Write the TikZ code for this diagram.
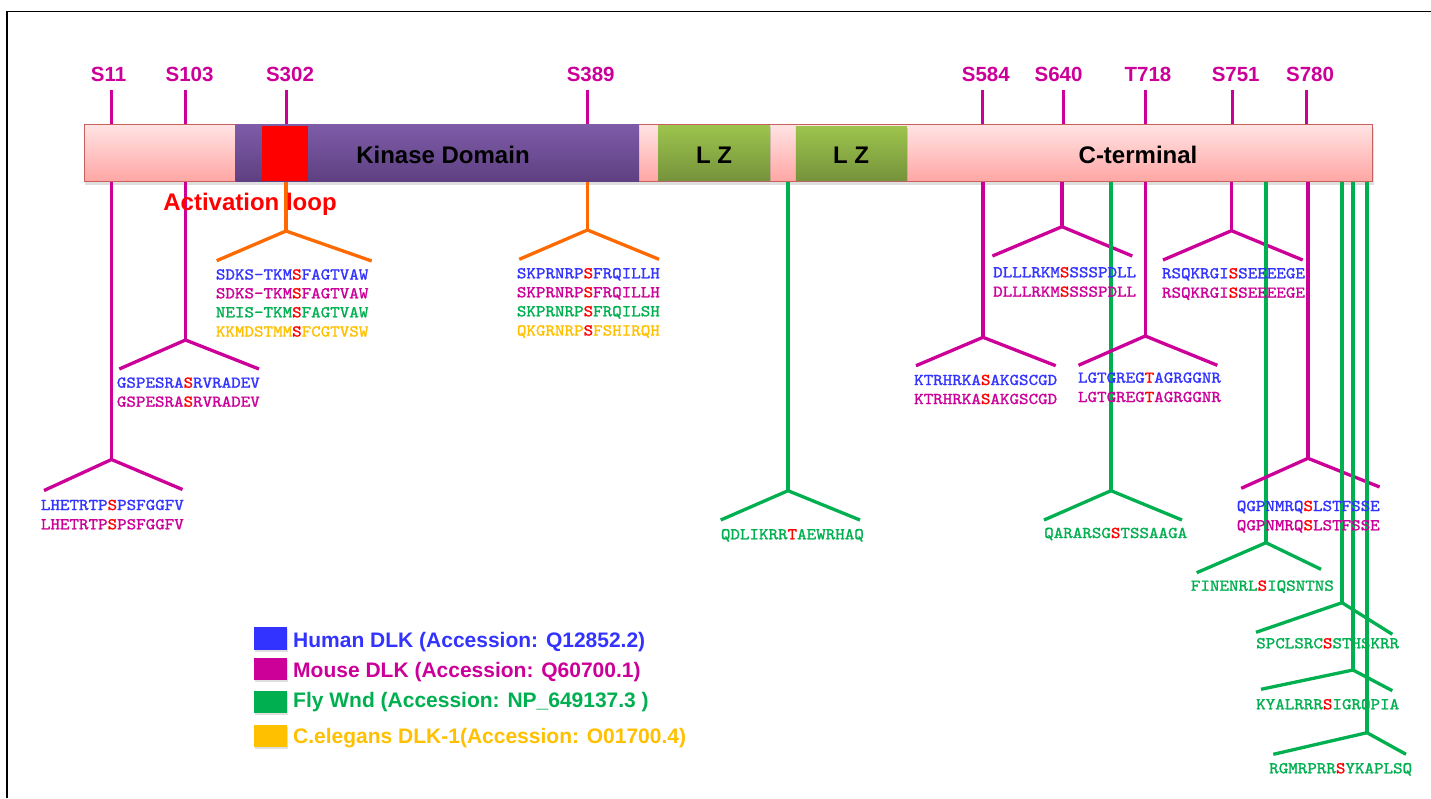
\documentclass[tikz,border=0pt]{standalone}
\usepackage{fontspec}
\setmainfont{Liberation Sans}
\newfontfamily\seqfont{lmmono10-regular}[Extension=.otf, FakeStretch=1.1, FakeBold=1.4]
\usetikzlibrary{shadows}

\definecolor{hblue}{HTML}{3333FF}
\definecolor{mag}{HTML}{CC0099}
\definecolor{fly}{HTML}{00B050}
\definecolor{worm}{HTML}{FFC000}
\definecolor{orng}{HTML}{FF6A00}
\definecolor{hl}{HTML}{FF0000}
\definecolor{barTop}{HTML}{FFE4E4}
\definecolor{barBot}{HTML}{FFA6A4}
\definecolor{barEdge}{HTML}{C8605E}
\definecolor{kinTop}{HTML}{7E5CA8}
\definecolor{kinBot}{HTML}{5E4082}
\definecolor{lzTop}{HTML}{9DC44C}
\definecolor{lzBot}{HTML}{76933C}

\tikzset{
  site/.style={font={\fontsize{20.5}{24}\selectfont\bfseries}, text=mag, anchor=base, inner sep=0pt},
  stem/.style={line width=3pt, draw=mag},
  magline/.style={line width=3.3pt, draw=mag, line join=round},
  orgline/.style={line width=3.3pt, draw=orng, line join=round},
  flyline/.style={line width=3.3pt, draw=fly, line join=round},
  seqtext/.style={font={\seqfont\fontsize{16.5}{19}\selectfont}, anchor=base west, inner sep=0pt},
  domtext/.style={font={\fontsize{24}{28}\selectfont\bfseries}, anchor=base, inner sep=0pt},
  legtext/.style={font={\fontsize{21}{25}\selectfont\bfseries}, anchor=base west, inner sep=0pt},
  legbox/.style={draw=none, drop shadow={shadow xshift=1pt, shadow yshift=-2pt, opacity=0.25}},
}

% one aligned residue row: name, x, baseline y, colour, before, site, after
\newcommand\seqrow[7]{%
  \node[seqtext, text=#4] (#1) at (#2,#3) {#5\textcolor{hl}{#6}#7};}

% stem from the bar down to a fork: name, style, x, fork y, left x, left y, right x, right y
\newcommand\fork[8]{%
  \coordinate (#1-top) at (#3,182);
  \coordinate (#1-apex) at (#3,#4);
  \coordinate (#1-l) at (#5,#6);
  \coordinate (#1-r) at (#7,#8);
  \draw[#2] (#1-top) -- (#1-apex);
  \draw[#2] (#1-l) -- (#1-apex) -- (#1-r);}

\begin{document}
\begin{tikzpicture}[x=1pt, y=-1pt]
\useasboundingbox (0,0) rectangle (1431,798);
\fill[white] (0,0) rectangle (1431,798);

% frame lines
\draw[line width=1.6pt] (7,798) -- (7,11.5) -- (1431,11.5);

% protein bar with domains
\node[draw=barEdge, line width=1pt, top color=barTop, bottom color=barBot,
      minimum width=1288.5pt, minimum height=57pt, inner sep=0pt, anchor=north west,
      drop shadow={shadow xshift=1pt, shadow yshift=-3pt, opacity=0.25}] (bar) at (83.5,124) {};
\node[fill=kinBot, top color=kinTop, bottom color=kinBot, minimum width=403.5pt,
      minimum height=57pt, inner sep=0pt, anchor=north west] (kinase) at (235.5,124) {};
\node[fill=hl, minimum width=46.2pt, minimum height=55pt, inner sep=0pt, anchor=north west] (aloop) at (261.5,126) {};
\node[top color=lzTop, bottom color=lzBot, minimum width=112pt, minimum height=55pt, inner sep=0pt,
      anchor=north west, drop shadow={shadow xshift=1pt, shadow yshift=-2pt, opacity=0.3}] (lz1) at (658,125) {};
\node[top color=lzTop, bottom color=lzBot, minimum width=111pt, minimum height=54pt, inner sep=0pt,
      anchor=north west, drop shadow={shadow xshift=1pt, shadow yshift=-2pt, opacity=0.3}] (lz2) at (795.6,126) {};

\node[domtext] (kintxt) at (443,163) {Kinase Domain};
\node[domtext] (lz1txt) at (714,163) {L Z};
\node[domtext] (lz2txt) at (851,163) {L Z};
\node[domtext] (ctxt) at (1138,163) {C-terminal};

% phosphosite labels and ticks above the bar
\foreach \nm/\tx/\lx/\lab in {s11/111.5/108.6/S11, s103/185.5/189.6/S103, s302/286/290/S302,
    s389/587/590.7/S389, s584/982.5/985.8/S584, s640/1063/1058.5/S640, t718/1145/1148/T718,
    s751/1232/1235.7/S751, s780/1306.5/1310/S780}{
  \node[site] (lab-\nm) at (\lx,81) {\lab};
  \coordinate (tk-\nm) at (\tx,90);
  \coordinate (tb-\nm) at (\tx,124);
  \draw[stem] (tk-\nm) -- (tb-\nm);
}

% forks below the bar
\fork{f11}{magline}{111.5}{459.5}{44}{490.5}{182.5}{489.5}
\fork{f103}{magline}{185.5}{340}{119.3}{369}{259}{369}
\fork{f302}{orgline}{286}{231}{216.7}{260.7}{371.7}{261}
\fork{f389}{orgline}{587.5}{230}{519.3}{259.3}{659}{259.3}
\fork{g788}{flyline}{788}{490.7}{720.7}{520}{860}{520}
\fork{f584}{magline}{983}{337.3}{916}{365.7}{1055.7}{365.7}
\fork{f640}{magline}{1062}{226.7}{992.4}{256}{1132.3}{256}
\fork{g1111}{flyline}{1111}{490.7}{1044}{520}{1182}{520}
\fork{f718}{magline}{1145.3}{336}{1078.5}{365.3}{1217.3}{365.3}
\fork{f751}{magline}{1231.5}{230.7}{1163}{260}{1302.7}{260}
\fork{g1266}{flyline}{1266}{542.7}{1196.7}{572.7}{1321}{569.3}
\fork{f780}{magline}{1308}{458.3}{1241.2}{488.3}{1379.6}{487}
\fork{g1342}{flyline}{1342}{602.7}{1256}{632.3}{1392.3}{634.3}
\fork{g1353}{flyline}{1353}{670}{1261}{689.3}{1392.3}{690.7}
\fork{g1367}{flyline}{1367}{732.7}{1273.3}{754.3}{1406}{754.3}

\node[domtext, text=hl] (actloop) at (250,210) {Activation loop};

% aligned sequences around each site
\seqrow{q11a}{40.7}{510}{hblue}{LHETRTP}{S}{PSFGGFV}
\seqrow{q11b}{40.7}{529.3}{mag}{LHETRTP}{S}{PSFGGFV}
\seqrow{q103a}{116.7}{387.7}{hblue}{GSPESRA}{S}{RVRADEV}
\seqrow{q103b}{116.7}{406.7}{mag}{GSPESRA}{S}{RVRADEV}
\seqrow{q302a}{215.7}{279.5}{hblue}{SDKS-TKM}{S}{FAGTVAW}
\seqrow{q302b}{215.7}{298.3}{mag}{SDKS-TKM}{S}{FAGTVAW}
\seqrow{q302c}{215.7}{317.3}{fly}{NEIS-TKM}{S}{FAGTVAW}
\seqrow{q302d}{215.7}{336.5}{worm}{KKMDSTMM}{S}{FCGTVSW}
\seqrow{q389a}{516.7}{278.3}{hblue}{SKPRNRP}{S}{FRQILLH}
\seqrow{q389b}{516.7}{297.3}{mag}{SKPRNRP}{S}{FRQILLH}
\seqrow{q389c}{516.7}{316.3}{fly}{SKPRNRP}{S}{FRQILSH}
\seqrow{q389d}{516.7}{335.5}{worm}{QKGRNRP}{S}{FSHIRQH}
\seqrow{w788}{720.7}{539.3}{fly}{QDLIKRR}{T}{AEWRHAQ}
\seqrow{q584a}{914}{385}{hblue}{KTRHRKA}{S}{AKGSCGD}
\seqrow{q584b}{914}{404}{mag}{KTRHRKA}{S}{AKGSCGD}
\seqrow{q640a}{993}{277.3}{hblue}{DLLLRKM}{S}{SSSPDLL}
\seqrow{q640b}{993}{296.7}{mag}{DLLLRKM}{S}{SSSPDLL}
\seqrow{w1111}{1044}{538}{fly}{QARARSG}{S}{TSSAAGA}
\seqrow{q718a}{1077.8}{382.7}{hblue}{LGTGREG}{T}{AGRGGNR}
\seqrow{q718b}{1077.8}{402}{mag}{LGTGREG}{T}{AGRGGNR}
\seqrow{q751a}{1161.8}{278.3}{hblue}{RSQKRGI}{S}{SEEEEGE}
\seqrow{q751b}{1161.8}{297.7}{mag}{RSQKRGI}{S}{SEEEEGE}
\seqrow{w1266}{1190.7}{590.7}{fly}{FINENRL}{S}{IQSNTNS}
\seqrow{q780a}{1236.6}{511}{hblue}{QGPNMRQ}{S}{LSTFSSE}
\seqrow{q780b}{1236.6}{530.3}{mag}{QGPNMRQ}{S}{LSTFSSE}
\seqrow{w1342}{1256}{648.3}{fly}{SPCLSRC}{S}{STHSKRR}
\seqrow{w1353}{1256}{709.3}{fly}{KYALRRR}{S}{IGRQPIA}
\seqrow{w1367}{1269}{773.3}{fly}{RGMRPRR}{S}{YKAPLSQ}

% legend
\fill[hblue, legbox] (254,627) rectangle (287,650);
\fill[mag, legbox] (254,658) rectangle (287,680);
\fill[fly, legbox] (254,691) rectangle (287,713);
\fill[worm, legbox] (254,725) rectangle (287,747);
\node[legtext, text=hblue] (leg1) at (293,647) {Human DLK (Accession: Q12852.2)};
\node[legtext, text=mag] (leg2) at (293,677) {Mouse DLK (Accession: Q60700.1)};
\node[legtext, text=fly] (leg3) at (293,707) {Fly Wnd (Accession: NP\_649137.3 )};
\node[legtext, text=worm] (leg4) at (293,743) {C.elegans DLK-1(Accession: O01700.4)};
\end{tikzpicture}
\end{document}
